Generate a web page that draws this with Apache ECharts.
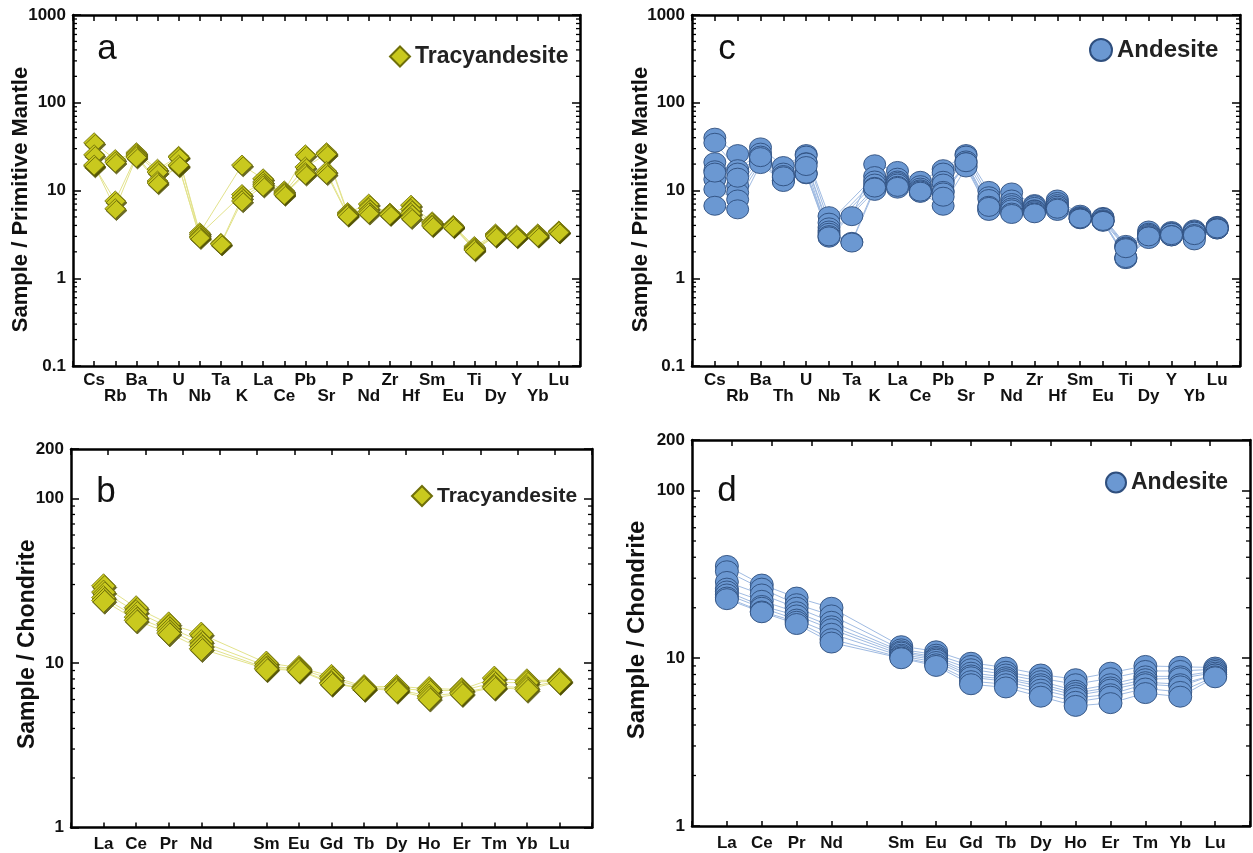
<!DOCTYPE html>
<html><head><meta charset="utf-8">
<script src="https://cdn.jsdelivr.net/npm/echarts@6/dist/echarts.min.js"></script>
<style>html,body{margin:0;padding:0;background:#fff}#chart{width:1253px;height:853px}</style>
</head><body><div id="chart"></div>
<script>
// ---------- categories / tick labels ----------
const pmElements = ['Cs','Rb','Ba','Th','U','Nb','Ta','K','La','Ce','Pb','Sr','P','Nd','Zr','Hf','Sm','Eu','Ti','Dy','Y','Yb','Lu'];
const reeElements = ['La','Ce','Pr','Nd','','Sm','Eu','Gd','Tb','Dy','Ho','Er','Tm','Yb','Lu'];

// ---------- (a) Tracyandesite, Sample / Primitive Mantle ----------
const tracyPM1 = [35, 22.5, 27, 17.5, 24.5, 3.3, null, 19.5, 13.6, 9.9, 25.5, 27, 5.6, 7.0, 5.5, 6.8, 4.4, 4.0, 2.3, 3.2, 3.1, 3.2, 3.45];
const tracyPM2 = [25.5, 21, 26, 16.2, 24, 3.15, null, 9.0, 12.5, 9.5, 18.5, 26, 5.4, 6.3, 5.5, 6.1, 4.25, 3.95, 2.2, 3.1, 3.05, 3.15, 3.42];
const tracyPM3 = [19, 7.6, 25, 12.8, 19, 3.0, 2.5, 8.3, 11.8, 9.2, 16, 16.5, 5.3, 5.8, 5.4, 5.5, 4.05, 3.9, 2.15, 3.05, 3.0, 3.05, 3.4];
const tracyPM4 = [19.5, 6.2, 24, 12.2, 19.5, 2.9, 2.45, 7.6, 11.2, 9.0, 15.3, 15.5, 5.2, 5.5, 5.3, 4.9, 3.95, 3.85, 2.1, 3.0, 2.95, 3.0, 3.35];

// ---------- (c) Andesite, Sample / Primitive Mantle ----------
const andPM1 = [40, 26, 31, 19, 26, 5.1, 5.1, 19.9, 16.7, 12.9, 17.5, 26, 9.9, 9.5, 7.0, 7.9, 5.3, 5.0, 2.4, 3.5, 3.45, 3.6, 3.95];
const andPM2 = [35, 17.5, 27, 16, 25, 4.3, null, 14.6, 14, 11.5, 16, 25, 8.6, 7.9, 6.8, 7.4, 5.1, 4.9, 2.3, 3.3, 3.35, 3.5, 3.9];
const andPM3 = [21, 16, 25, 15, 21, 3.8, null, 13, 13, 10.8, 12.9, 22, 8.0, 7.2, 6.5, 7.0, 5.0, 4.7, 2.25, 3.2, 3.3, 3.4, 3.8];
const andPM4 = [17, 11.3, 23, 14, 20.8, 3.5, null, 12, 12.5, 10.3, 12, 21, 6.7, 6.8, 6.1, 6.7, 4.9, 4.6, 1.75, 3.1, 3.1, 3.2, 3.7];
const andPM5 = [13.4, 9.5, 22, 13, 16, 3.3, 2.6, 11, 12, 10, 9.9, 20, 6.3, 6.4, 6.0, 6.4, 4.8, 4.5, 1.7, 3.0, 3.05, 3.05, 3.65];
const andPM6 = [10.3, 7.9, 21, 12.9, 15.3, 3.1, 2.55, 10.3, 11.3, 9.5, 9.5, 19, 6.0, 6.1, 5.8, 6.0, 4.75, 4.45, 1.65, 2.9, 3.0, 2.9, 3.6];
const andPM7 = [6.7, 6.1, 20, 12.5, 15.5, 2.9, null, 9.9, 10.5, 9.4, 6.7, 18.3, 5.85, 5.6, 5.6, 5.85, 4.7, 4.4, 1.7, 2.8, 3.0, 2.7, 3.6];
const andPM8 = [16, 14, 24, 14.5, 19, 3.0, null, 10.8, 11, 9.7, 8.5, 21, 6.5, 5.4, 5.5, 6.2, 4.8, 4.5, 2.2, 3.0, 3.1, 3.1, 3.7];

// ---------- (b) Tracyandesite, Sample / Chondrite ----------
const tracyREE1 = [29.5, 21.7, 17.3, 15.0, null, 10.0, 9.4, 8.3, 7.2, 7.2, 7.0, 6.9, 8.1, 7.8, 7.9];
const tracyREE2 = [27, 20.5, 16.5, 13.5, null, 9.6, 9.2, 8.0, 7.1, 7.0, 6.8, 6.8, 7.6, 7.6, 7.8];
const tracyREE3 = [25, 19, 15.8, 12.8, null, 9.3, 9.1, 7.6, 7.0, 6.9, 6.3, 6.6, 7.2, 7.1, 7.8];
const tracyREE4 = [24, 18.2, 15.2, 12.2, null, 9.2, 9.0, 7.5, 7.0, 6.8, 6.1, 6.5, 7.1, 6.9, 7.7];

// ---------- (d) Andesite, Sample / Chondrite ----------
const andREE1 = [35.5, 27.5, 23, 20, null, 11.8, 11.0, 9.4, 8.8, 8.0, 7.5, 8.2, 9.0, 8.9, 8.8];
const andREE2 = [33, 26, 21, 18, null, 11.3, 10.5, 9.0, 8.3, 7.6, 7.0, 7.6, 8.4, 8.4, 8.6];
const andREE3 = [28.5, 24, 20, 16.5, null, 11.0, 10.2, 8.6, 8.0, 7.3, 6.4, 7.0, 7.8, 7.8, 8.4];
const andREE4 = [26, 22, 18.8, 15.5, null, 10.8, 10.0, 8.2, 7.7, 7.0, 6.2, 6.7, 7.5, 7.6, 8.2];
const andREE5 = [25, 20.5, 18, 14.9, null, 10.5, 9.8, 7.9, 7.5, 6.8, 6.0, 6.5, 7.2, 7.0, 8.0];
const andREE6 = [24, 20, 17, 14, null, 10.3, 9.5, 7.7, 7.3, 6.5, 5.8, 6.1, 7.0, 6.8, 8.0];
const andREE7 = [23, 19, 16.5, 13, null, 10.1, 9.2, 7.3, 7.0, 6.2, 5.5, 5.9, 6.6, 6.3, 7.8];
const andREE8 = [22.5, 18.8, 16, 12.4, null, 10.0, 9.0, 7.0, 6.7, 5.9, 5.2, 5.4, 6.2, 5.9, 7.7];

// ---------- styling ----------
const FONT = 'Liberation Sans, Arial, Helvetica, sans-serif';
const TRACY = {name: 'Tracyandesite', fill: '#c9c91e', border: '#6f6f0a', line: '#e3e38c'};
const ANDES = {name: 'Andesite', fill: '#6b98d2', border: '#2f4f7e', line: '#a0bbe2'};
const ELLIPSE = 'path://M0,1A1,1 0 1,1 2,1A1,1 0 1,1 0,1Z';

const panels = [
  {grid: {left: 73, top: 15, width: 507, height: 351}, names: pmElements, topMax: 23, ymin: 0.1, ymax: 1000,
   samples: [tracyPM1, tracyPM2, tracyPM3, tracyPM4], kind: TRACY, symbol: 'diamond', size: [21, 20],
   yName: 'Sample / Primitive Mantle', nameGap: 41, nameSize: 22, namePad: [0, 18, 0, 0], twoRows: true,
   label: 'a', lx: 107, ly: 49,
   legend: {left: 389, top: 45, w: 20, h: 20, icon: 'diamond', size: 23}},
  {grid: {left: 71, top: 449, width: 521, height: 379}, names: reeElements, topMax: 13, ymin: 1, ymax: 200,
   samples: [tracyREE1, tracyREE2, tracyREE3, tracyREE4], kind: TRACY, symbol: 'diamond', size: [24, 24],
   yName: 'Sample / Chondrite', nameGap: 32, nameSize: 23, namePad: [0, 12, 0, 0], twoRows: false,
   label: 'b', lx: 106, ly: 492,
   legend: {left: 411, top: 485, w: 20, h: 20, icon: 'diamond', size: 21}},
  {grid: {left: 692, top: 15, width: 548, height: 351}, names: pmElements, topMax: 23, ymin: 0.1, ymax: 1000,
   samples: [andPM1, andPM2, andPM3, andPM4, andPM5, andPM6, andPM7, andPM8], kind: ANDES, symbol: ELLIPSE, size: [22, 19],
   yName: 'Sample / Primitive Mantle', nameGap: 40, nameSize: 22, namePad: [0, 18, 0, 0], twoRows: true,
   label: 'c', lx: 727, ly: 49,
   legend: {left: 1089, top: 38, w: 22, h: 22, icon: 'circle', size: 24}},
  {grid: {left: 692, top: 440, width: 559, height: 386}, names: reeElements, topMax: 13, ymin: 1, ymax: 200,
   samples: [andREE1, andREE2, andREE3, andREE4, andREE5, andREE6, andREE7, andREE8], kind: ANDES, symbol: ELLIPSE, size: [23, 21],
   yName: 'Sample / Chondrite', nameGap: 43, nameSize: 24, namePad: [0, 0, 0, 6], twoRows: false,
   label: 'd', lx: 727, ly: 491,
   legend: {left: 1105, top: 471, w: 20, h: 20, icon: 'circle', size: 23}}
];

const option = {animation: false, backgroundColor: '#fff', grid: [], xAxis: [], yAxis: [], series: [], legend: [], graphic: []};
const axisLine = {show: true, onZero: false, lineStyle: {color: '#000', width: 2.5}};
const tickStyle = {color: '#000', width: 1.5};

panels.forEach((p, gi) => {
  option.grid.push(Object.assign({containLabel: false}, p.grid));
  const n = p.names.length;
  // bottom category-position axis
  option.xAxis.push({
    type: 'value', gridIndex: gi, position: 'bottom', min: -1, max: n, interval: 1,
    axisLine, splitLine: {show: false},
    axisTick: {inside: true, length: 5, lineStyle: tickStyle},
    axisLabel: {
      margin: p.twoRows ? 6 : 9, fontFamily: FONT, fontWeight: 'bold', fontSize: 17, color: '#111', lineHeight: 16,
      formatter: v => {
        const i = Math.round(v);
        if (i < 0 || i >= n) return '';
        return (p.twoRows && i % 2 === 1) ? '\n' + p.names[i] : p.names[i];
      }
    }
  });
  // top frame axis
  option.xAxis.push({
    type: 'value', gridIndex: gi, position: 'top', min: -1, max: p.topMax, interval: 1,
    axisLine, splitLine: {show: false}, axisLabel: {show: false},
    axisTick: {inside: true, length: 6, lineStyle: tickStyle}
  });
  option.yAxis.push({
    type: 'log', logBase: 10, gridIndex: gi, position: 'left', min: p.ymin, max: p.ymax,
    axisLine, splitLine: {show: false},
    axisTick: {inside: true, length: 8, lineStyle: tickStyle},
    axisLabel: {margin: 7, fontFamily: FONT, fontWeight: 'bold', fontSize: 17, color: '#111',
      formatter: v => String(+(+v).toPrecision(6))},
    name: p.yName, nameLocation: 'middle', nameRotate: 90, nameGap: p.nameGap, nameMoveOverlap: false,
    nameTextStyle: {fontFamily: FONT, fontWeight: 'bold', fontSize: p.nameSize, color: '#111', padding: p.namePad}
  });
  option.yAxis.push({
    type: 'log', logBase: 10, gridIndex: gi, position: 'right', min: p.ymin, max: p.ymax,
    axisLine, splitLine: {show: false}, axisLabel: {show: false},
    axisTick: {inside: true, length: 8, lineStyle: tickStyle}
  });
  const xi = gi * 2, yi = gi * 2;
  // minor log ticks on left and right frame
  const minors = [];
  for (let d = Math.log10(p.ymin); d < Math.log10(p.ymax); d++) {
    for (let k = 2; k <= 9; k++) { const v = k * Math.pow(10, d); if (v < p.ymax) minors.push(+v.toPrecision(6)); }
  }
  option.series.push({
    type: 'custom', xAxisIndex: xi, yAxisIndex: yi, silent: true, clip: false, z: 1,
    data: minors.map(v => [-1, v]), encode: {x: 0, y: 1},
    renderItem: (params, api) => {
      const v = api.value(1);
      const L = api.coord([-1, v]);
      const R = api.coord([n, v]);
      return {type: 'group', children: [
        {type: 'line', shape: {x1: L[0], y1: L[1], x2: L[0] + 4, y2: L[1]}, style: {stroke: '#000', lineWidth: 1.3}},
        {type: 'line', shape: {x1: R[0] - 4, y1: R[1], x2: R[0], y2: R[1]}, style: {stroke: '#000', lineWidth: 1.3}}
      ]};
    }
  });
  // connecting lines
  p.samples.forEach((s, si) => {
    option.series.push({
      type: 'line', name: p.kind.name + ' sample ' + (si + 1), xAxisIndex: xi, yAxisIndex: yi,
      data: s.map((v, i) => [i, v === null ? '-' : v]), connectNulls: true, symbol: 'none', silent: true, z: 2,
      lineStyle: {color: p.kind.line, width: 1}
    });
  });
  // sample symbols
  p.samples.forEach((s, si) => {
    const pts = [];
    s.forEach((v, i) => { if (v !== null) pts.push([i, v]); });
    option.series.push({
      type: 'scatter', name: p.kind.name, xAxisIndex: xi, yAxisIndex: yi, data: pts, z: 3,
      symbol: p.symbol, symbolSize: p.size,
      itemStyle: p.kind === TRACY
        ? {color: p.kind.fill, borderColor: p.kind.border, borderWidth: 0.8, opacity: 1,
           shadowColor: 'rgba(80,80,0,0.85)', shadowOffsetX: 1.2, shadowOffsetY: 1.8, shadowBlur: 0}
        : {color: p.kind.fill, borderColor: p.kind.border, borderWidth: 0.9, opacity: 1}
    });
  });
  option.legend.push({
    left: p.legend.left, top: p.legend.top, padding: 0, selectedMode: false, orient: 'horizontal',
    data: [{name: p.kind.name, icon: p.legend.icon}], itemWidth: p.legend.w, itemHeight: p.legend.h,
    textStyle: {fontFamily: FONT, fontWeight: 'bold', fontSize: p.legend.size, color: '#222'}
  });
  option.graphic.push({
    type: 'text', x: p.lx, y: p.ly, silent: true,
    style: {text: p.label, fontFamily: FONT, fontSize: 35, fill: '#111', align: 'center', verticalAlign: 'middle'}
  });
});

const chart = echarts.init(document.getElementById('chart'), null, {renderer: 'canvas'});
chart.setOption(option);
</script>
</body></html>
